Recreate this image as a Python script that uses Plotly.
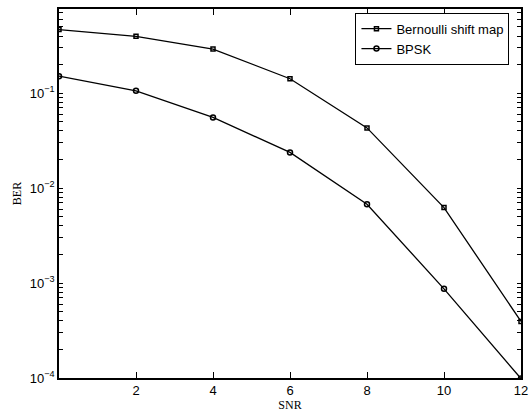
import plotly.graph_objects as go

snr = [0, 2, 4, 6, 8, 10, 12]
ber_bernoulli = [0.468, 0.397, 0.292, 0.142, 0.0431, 0.00624, 0.000394]
ber_bpsk = [0.151, 0.106, 0.0556, 0.0238, 0.00676, 0.00087, 0.0000985]
x_ticks = [2, 4, 6, 8, 10, 12]
y_exponents = [-4, -3, -2, -1]

y_tickvals = []
y_ticktext = []
for e in y_exponents:
    for m in range(1, 10):
        y_tickvals.append(m * 10.0 ** e)
        y_ticktext.append("10<sup>\u2212%d</sup>" % (-e) if m == 1 else "")

fig = go.Figure()
fig.add_trace(go.Scatter(x=snr, y=ber_bernoulli, mode="lines+markers", name="Bernoulli shift map",
                         line=dict(color="black", width=1.3),
                         marker=dict(symbol="square-open", size=4, color="black", line=dict(width=1.5))))
fig.add_trace(go.Scatter(x=snr, y=ber_bpsk, mode="lines+markers", name="BPSK",
                         line=dict(color="black", width=1.3),
                         marker=dict(symbol="circle-open", size=5, color="black", line=dict(width=1.5))))

yrange = [-4, -0.113]
fig.update_layout(
    width=532, height=416,
    margin=dict(l=59, r=4, t=9, b=38),
    paper_bgcolor="white", plot_bgcolor="white",
    font=dict(family="Liberation Sans, Arial", size=12, color="black"),
    showlegend=True,
    legend=dict(x=0.975, y=0.99, xanchor="right", yanchor="top",
                bordercolor="black", borderwidth=1, bgcolor="white",
                font=dict(size=13), tracegroupgap=0, itemwidth=30),
    xaxis=dict(range=[0, 12], tickvals=x_ticks, ticks="inside", ticklen=6, tickwidth=1.3,
               tickcolor="black",
               showline=True, linecolor="black", linewidth=1.5, mirror="ticks",
               showgrid=False, zeroline=False, ticklabeloverflow="allow",
               tickfont=dict(size=13),
               title=dict(text="SNR", font=dict(family="Liberation Serif, Times New Roman", size=12), standoff=2)),
    yaxis=dict(type="log", range=yrange, tickmode="array", tickvals=y_tickvals, ticktext=y_ticktext,
               ticks="inside", ticklen=4, tickwidth=1.3, tickcolor="black", tickfont=dict(size=13),
               showline=True, linecolor="black", linewidth=1.5, mirror="ticks",
               showgrid=False, zeroline=False,
               title=dict(text="BER", font=dict(family="Liberation Serif, Times New Roman", size=12), standoff=6)),
)

fig.write_html("out.html")
